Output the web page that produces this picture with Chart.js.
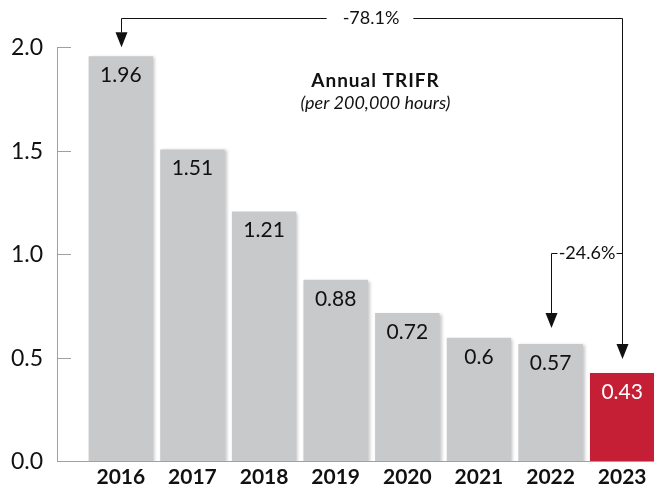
<!DOCTYPE html>
<html>
<head>
<meta charset="utf-8">
<script src="https://cdn.jsdelivr.net/npm/chart.js@4"></script>
<style>
  html, body { margin: 0; padding: 0; background: #fff; overflow: hidden; }
  canvas { display: block; }
</style>
</head>
<body>
<canvas id="myChart" width="660" height="489"></canvas>
<script>
// données du graphique
const years = ['2016', '2017', '2018', '2019', '2020', '2021', '2022', '2023'];
const trifr = [1.96, 1.51, 1.21, 0.88, 0.72, 0.6, 0.57, 0.43];
const yTicks = [0, 0.5, 1.0, 1.5, 2.0];
const chartTitle = 'Annual TRIFR';
const chartSubtitle = '(per 200,000 hours)';
// comparaisons : de l'année "from" vers l'année "to"
const changes = [
    { label: '-78.1%', from: 0, to: 7 },
    { label: '-24.6%', from: 6, to: 7 }
];

const GREY = '#c8c9cb';
const RED = '#c41f35';
const FONT = 'Lato, "Open Sans", sans-serif';

// flèche verticale pleine
function arrowHead(ctx, x, tipY) {
    ctx.beginPath();
    ctx.moveTo(x - 6, tipY - 15);
    ctx.lineTo(x + 6, tipY - 15);
    ctx.lineTo(x, tipY);
    ctx.closePath();
    ctx.fill();
}

// ombre des barres
const shadowPlugin = {
    id: 'shadow',
    beforeDatasetsDraw(chart) {
        const ctx = chart.ctx;
        ctx.save();
        ctx.shadowColor = 'rgba(0,0,0,0.22)';
        ctx.shadowBlur = 3;
        ctx.shadowOffsetX = 2;
        ctx.shadowOffsetY = 1;
    },
    afterDatasetsDraw(chart) {
        chart.ctx.restore();
    }
};

// axes, étiquettes, titre et flèches
const decoPlugin = {
    id: 'deco',
    afterDraw(chart) {
        const ctx = chart.ctx;
        const xs = chart.scales.x;
        const ys = chart.scales.y;
        const area = chart.chartArea;
        const axisX = 57;

        ctx.save();
        // axe vertical + graduations
        ctx.strokeStyle = '#a0a0a0';
        ctx.lineWidth = 1;
        ctx.beginPath();
        ctx.moveTo(axisX + 0.5, ys.getPixelForValue(2));
        ctx.lineTo(axisX + 0.5, ys.getPixelForValue(0));
        yTicks.forEach(t => {
            const y = Math.round(ys.getPixelForValue(t)) - 0.5;
            ctx.moveTo(axisX, y);
            ctx.lineTo(axisX + 14, y);
        });
        // axe horizontal
        const y0 = Math.round(ys.getPixelForValue(0)) - 0.5;
        ctx.moveTo(axisX, y0);
        ctx.lineTo(area.right, y0);
        ctx.stroke();

        // valeurs dans les barres
        ctx.font = '21px ' + FONT;
        ctx.textAlign = 'center';
        ctx.textBaseline = 'middle';
        const meta = chart.getDatasetMeta(0);
        meta.data.forEach((bar, i) => {
            ctx.fillStyle = i === trifr.length - 1 ? '#ffffff' : '#111111';
            ctx.fillText(String(trifr[i]), bar.x, bar.y + 19);
        });

        // titre
        const cx = (area.left + area.right) / 2 + 4;
        ctx.fillStyle = '#111111';
        ctx.font = 'bold 19px ' + FONT;
        ctx.letterSpacing = '1px';
        ctx.fillText(chartTitle, cx, 81);
        ctx.letterSpacing = '0px';
        ctx.font = 'italic 18px ' + FONT;
        ctx.fillText(chartSubtitle, cx, 103);

        // flèches de comparaison
        ctx.strokeStyle = '#111111';
        ctx.fillStyle = '#111111';
        ctx.lineWidth = 1;
        ctx.font = '18px ' + FONT;
        const xTo = Math.round(xs.getPixelForValue(7)) + 0.5;

        // -78.1 %
        const c1 = changes[0];
        const xa = Math.round(xs.getPixelForValue(c1.from)) + 0.5;
        const top1 = 18.5;
        const txt1 = (xa + xTo) / 2 - 1;
        const w1 = ctx.measureText(c1.label).width;
        ctx.beginPath();
        ctx.moveTo(xa, ys.getPixelForValue(trifr[c1.from]) - 24);
        ctx.lineTo(xa, top1);
        ctx.lineTo(txt1 - w1 / 2 - 16, top1);
        ctx.moveTo(txt1 + w1 / 2 + 14, top1);
        ctx.lineTo(xTo, top1);
        ctx.lineTo(xTo, ys.getPixelForValue(trifr[c1.to]) - 28);
        ctx.stroke();
        arrowHead(ctx, xa, ys.getPixelForValue(trifr[c1.from]) - 9);
        arrowHead(ctx, xTo, ys.getPixelForValue(trifr[c1.to]) - 14);
        ctx.fillText(c1.label, txt1, top1);

        // -24.6 %
        const c2 = changes[1];
        const xb = Math.round(xs.getPixelForValue(c2.from)) + 0.5;
        const top2 = 253.5;
        ctx.beginPath();
        ctx.moveTo(xb, ys.getPixelForValue(trifr[c2.from]) - 30);
        ctx.lineTo(xb, top2);
        ctx.lineTo(xb + 6, top2);
        ctx.moveTo(xTo - 6, top2);
        ctx.lineTo(xTo, top2);
        ctx.stroke();
        arrowHead(ctx, xb, ys.getPixelForValue(trifr[c2.from]) - 16);
        ctx.fillText(c2.label, (xb + 6 + xTo - 6) / 2, top2);
        ctx.restore();
    }
};

const ctx = document.getElementById('myChart').getContext('2d');
const myChart = new Chart(ctx, {
    type: 'bar',
    data: {
        labels: years,
        datasets: [{
            data: trifr,
            backgroundColor: trifr.map((v, i) => i === trifr.length - 1 ? RED : GREY),
            borderWidth: 0,
            barPercentage: 0.9,
            categoryPercentage: 1
        }]
    },
    options: {
        responsive: false,
        animation: false,
        layout: { padding: { top: 48, left: 8, right: 2, bottom: 0 } },
        plugins: {
            legend: { display: false },
            tooltip: { enabled: false }
        },
        scales: {
            x: {
                afterFit(scale) { scale.height = 27; },
                grid: { display: false, drawTicks: false },
                border: { display: false },
                ticks: {
                    color: '#111111',
                    padding: 3,
                    font: { family: FONT, size: 21, weight: 'bold' }
                }
            },
            y: {
                min: 0,
                max: 2,
                afterFit(scale) {
                    scale.width = 77;
                    scale.paddingTop = 0;
                    scale.paddingBottom = 0;
                },
                grid: { display: false, drawTicks: false },
                border: { display: false },
                ticks: {
                    stepSize: 0.5,
                    padding: 42,
                    color: '#111111',
                    font: { family: FONT, size: 23 },
                    callback: v => yTicks.includes(v) ? v.toFixed(1) : ''
                }
            }
        }
    },
    plugins: [shadowPlugin, decoPlugin]
});
</script>
</body>
</html>
